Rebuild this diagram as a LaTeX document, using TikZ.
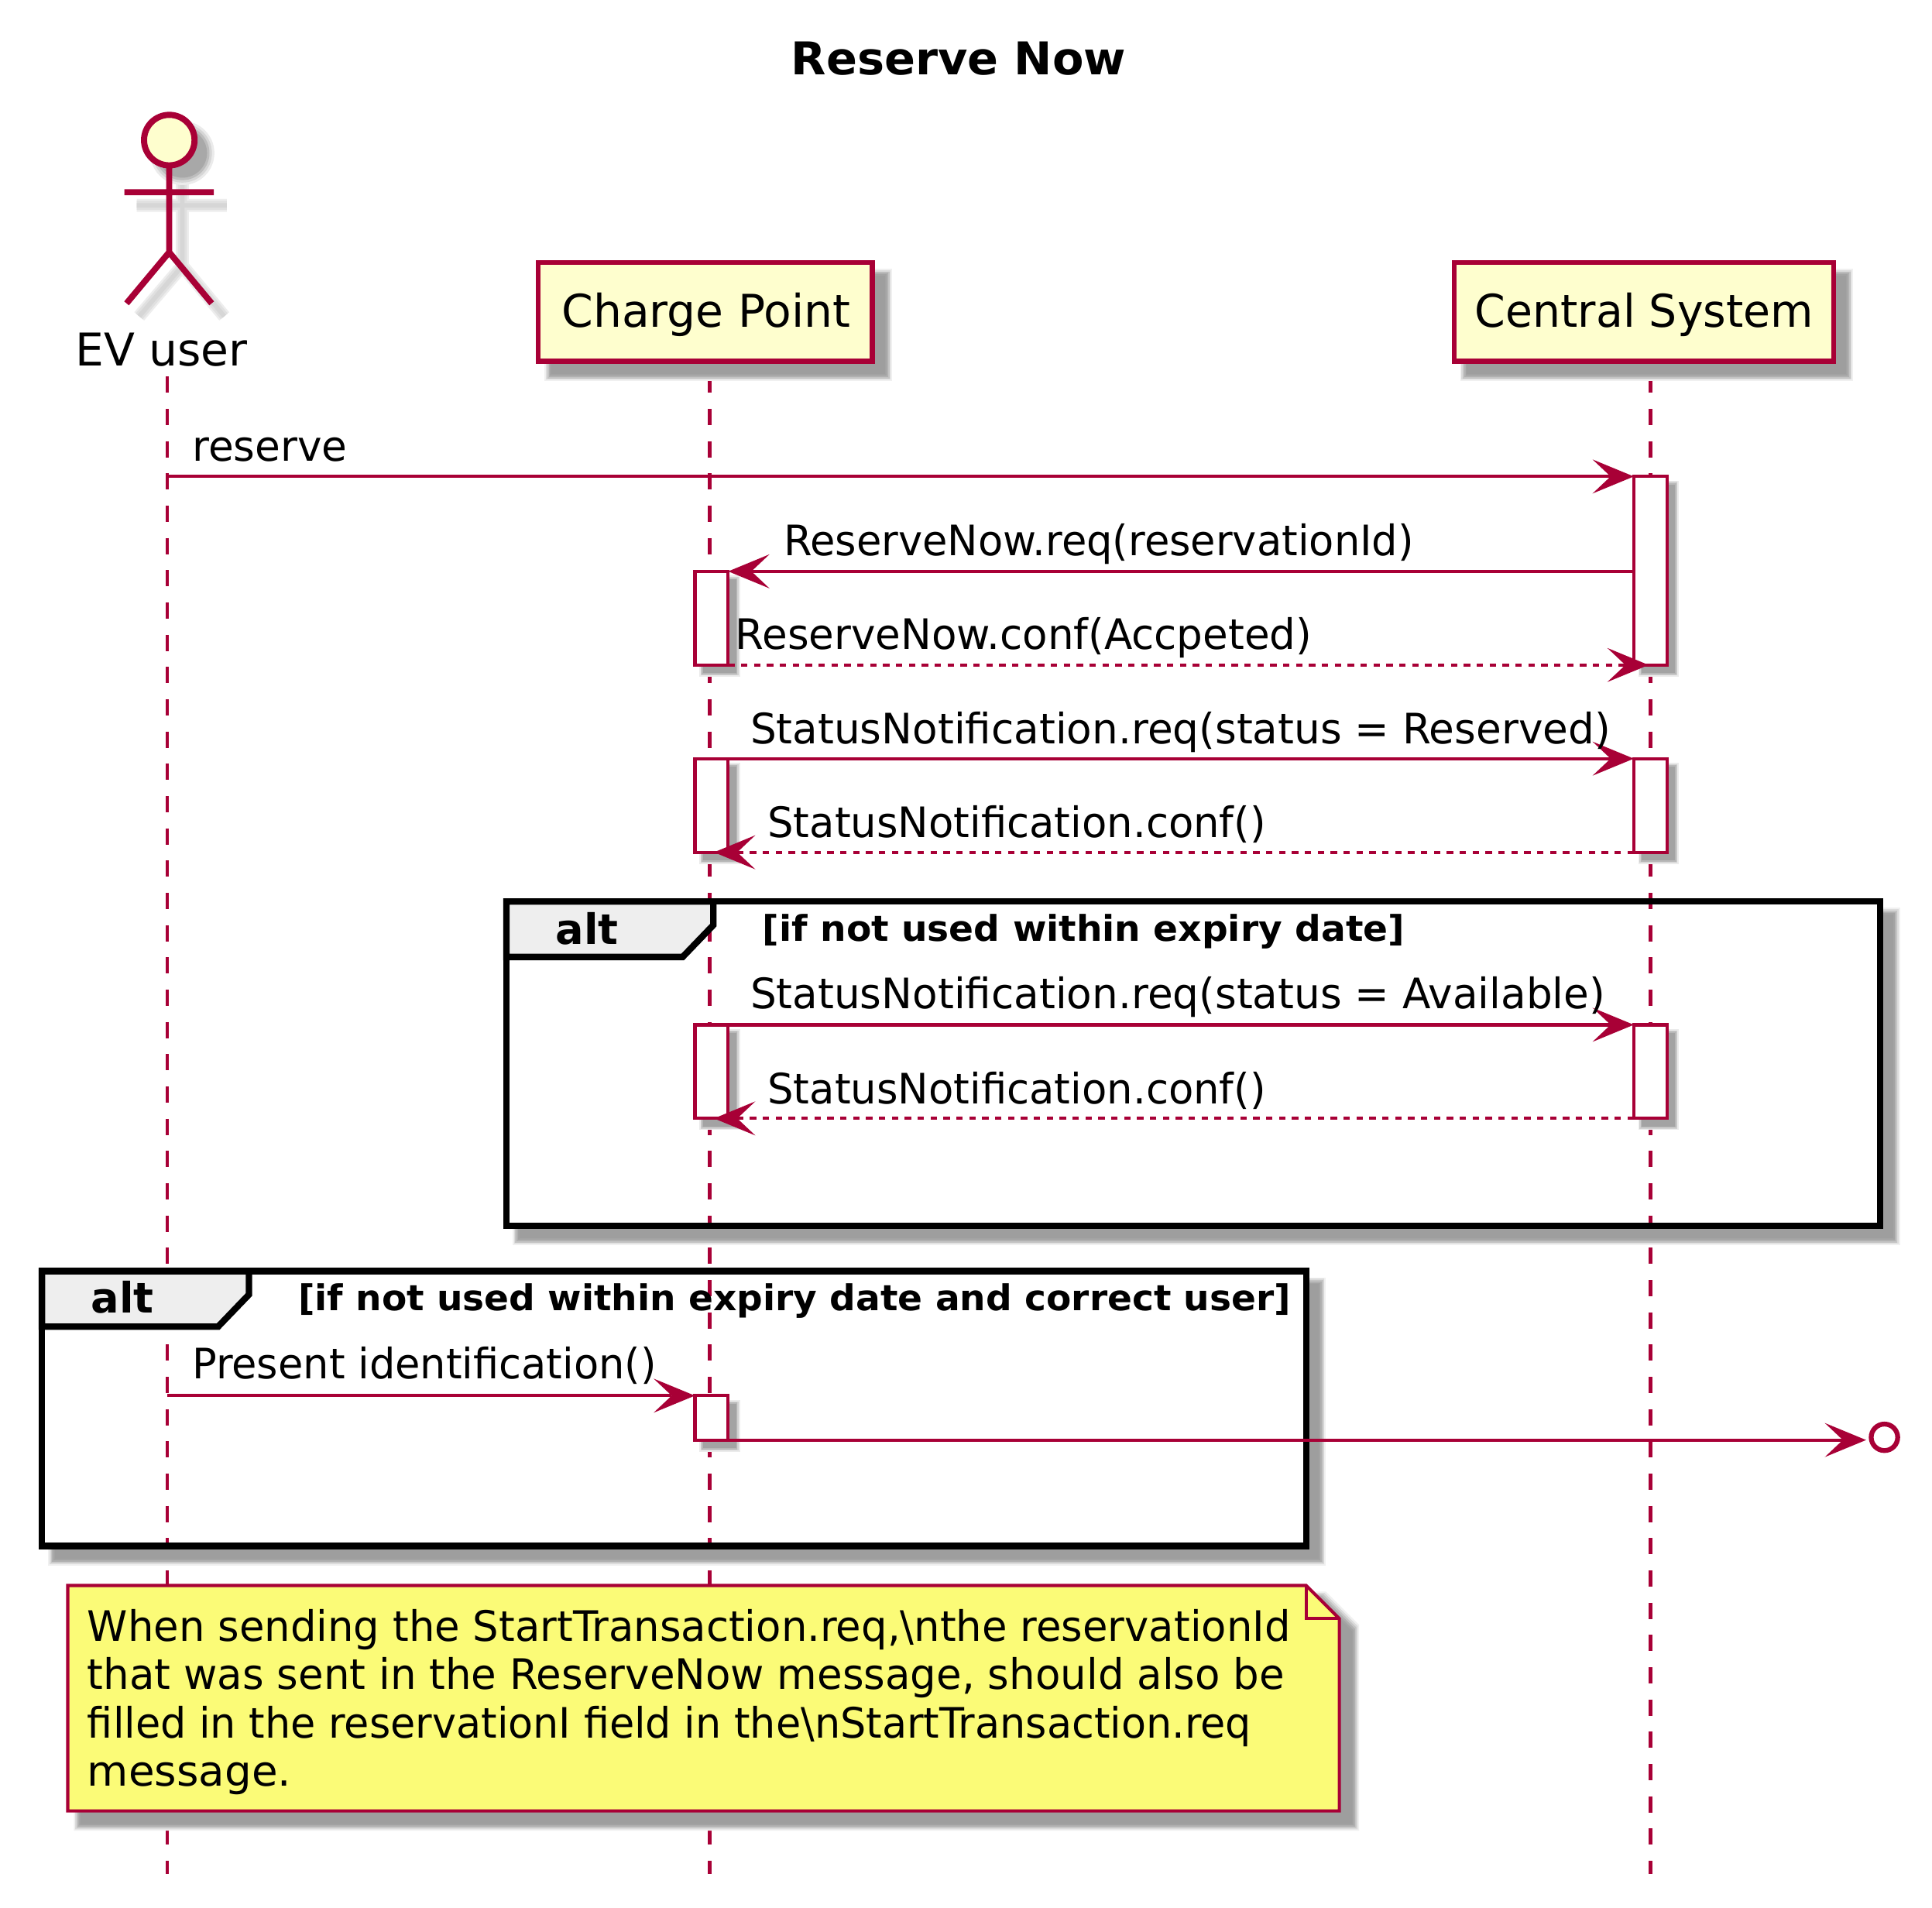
\documentclass[tikz,border=0pt]{standalone}
\usepackage{fontspec}
\setmainfont{DejaVu Sans}
\usetikzlibrary{arrows.meta}
\definecolor{pl}{HTML}{A80036}
\definecolor{pfill}{HTML}{FEFECE}
\definecolor{nfill}{HTML}{FBFB77}
\definecolor{tabfill}{HTML}{EEEEEE}
\newcommand{\softshadow}[4]{\foreach \d/\c in {5.5/6, 4.4/14, 3.3/23, 2.2/31, 1.1/36, 0/38}{\fill[black!\c] (#1+10.5-\d,#2+10.5-\d) rectangle (#3+10.5+\d,#4+10.5+\d);}}
\newcommand{\actshadow}[4]{\foreach \d/\c in {3/8,2/18,1/28,0/36}{\fill[black!\c] (#1+6.5-\d,#2+6.5-\d) rectangle (#3+6.5+\d,#4+6.5+\d);}}
\tikzset{
  lifeline/.style={draw=pl,line width=1pt,dash pattern=on 5pt off 5pt},
  hd/.tip={Stealth[length=12.8pt,width=10.56pt,inset=5.6pt,line width=0pt]},
  msgline/.style={draw=pl,line width=1pt,-{hd[fill=pl]}},
  msgdash/.style={msgline,dash pattern=on 2pt off 2pt},
  actbox/.style={draw=pl,fill=white,line width=1pt,inner sep=0pt,outer sep=0pt,minimum width=27*0.3819pt},
  partbox/.style={draw=pl,fill=pfill,line width=1.5pt,inner sep=0pt,outer sep=0pt,minimum height=80*0.3819pt},
  partlbl/.style={anchor=base,inner sep=0pt,outer sep=0pt,font=\fontsize{14}{16}\selectfont},
  lbl/.style={anchor=base west,inner sep=0pt,outer sep=0pt,font=\fontsize{13}{15}\selectfont},
  altlbl/.style={anchor=base west,inner sep=0pt,outer sep=0pt,font=\fontsize{13}{15}\selectfont\bfseries},
  condlbl/.style={anchor=base west,inner sep=0pt,outer sep=0pt,font=\fontsize{11}{13}\selectfont\bfseries},
  framebox/.style={draw=black,line width=2pt},
  tabshape/.style={draw=black,fill=tabfill,line width=2pt,line join=miter},
}
\newcommand{\sx}[2]{\scalebox{#1}[1]{#2}}
\begin{document}
\begin{tikzpicture}[x=0.3819pt,y=-0.3819pt]
\useasboundingbox (0,-0.7) rectangle (1568,1547.8);
\fill[white] (0,-0.7) rectangle (1568,1547.8);

% title
\node[anchor=base,inner sep=0pt,font=\fontsize{14}{16}\selectfont\bfseries] (title) at (778,60) {\sx{1.01}{Reserve Now}};

% lifelines
\coordinate (evT) at (135.8,305); \coordinate (evB) at (135.8,1520);
\coordinate (cpT) at (576,305);   \coordinate (cpB) at (576,1520);
\coordinate (csT) at (1339.5,305);\coordinate (csB) at (1339.5,1520);
\draw[lifeline] (evT) -- (evB);
\draw[lifeline] (cpT) -- (cpB);
\draw[lifeline] (csT) -- (csB);

% actor
\foreach \w/\c in {4/7,2.8/12,1.4/16}{
  \draw[line width=\w pt,black!\c,line cap=butt] (148,146) -- (148,215) (111,166) -- (184,166) (113,256) -- (148,215) -- (182,256);
}
\foreach \d/\c in {6/8,4/16,2/26,0/34}{\fill[black!\c] (148,123.5) circle[radius=20+\d];}
\draw[pl,line width=1.9pt] (137.3,135) -- (137.3,204) (101,155.3) -- (173.5,155.3) (102.7,245.5) -- (137.3,204) -- (171.8,245.5);
\node[draw=pl,fill=pfill,line width=1.9pt,circle,inner sep=0pt,outer sep=0pt,minimum size=41*0.3819pt] (head) at (137.4,113) {};
\node[partlbl] (evlabel) at (131,296.5) {EV user};

% participants
\softshadow{437}{212.5}{708}{292.5}
\softshadow{1180}{212.5}{1488}{292.5}
\node[partbox,minimum width=271*0.3819pt] (cpbox) at (572.5,252.5) {};
\node[partlbl] (cplabel) at (573,265) {Charge Point};
\node[partbox,minimum width=308*0.3819pt] (csbox) at (1334,252.5) {};
\node[partlbl] (cslabel) at (1334.5,265) {\sx{.975}{Central System}};

% frame shadows (outside the frames only)
\begin{scope}[even odd rule]
\clip (0,-0.7) rectangle (1568,1547.8) (411,731) rectangle (1526,994);
\softshadow{411}{731}{1526}{994}
\end{scope}
\begin{scope}[even odd rule]
\clip (0,-0.7) rectangle (1568,1547.8) (34,1031) rectangle (1060,1254);
\softshadow{34}{1031}{1060}{1254}
\end{scope}

% frames
\draw[framebox] (411,731) rectangle (1526,994);
\draw[tabshape] (411,731) -- (579,731) -- (579,750) -- (554,776) -- (411,776) -- cycle;
\node[altlbl] (alt1) at (451,766) {alt};
\node[condlbl] (cond1) at (619,763) {\sx{1.028}{[if not used within expiry date]}};
\draw[framebox] (34,1031) rectangle (1060,1254);
\draw[tabshape] (34,1031) -- (202,1031) -- (202,1050) -- (177,1076) -- (34,1076) -- cycle;
\node[altlbl] (alt2) at (74,1065) {alt};
\node[condlbl] (cond2) at (242,1063) {\sx{1.027}{[if not used within expiry date and correct user]}};

% activations
\actshadow{1326}{386}{1353}{539}
\actshadow{564}{463}{591}{539}
\actshadow{564}{615}{591}{691}
\actshadow{1326}{615}{1353}{691}
\actshadow{564}{831}{591}{907}
\actshadow{1326}{831}{1353}{907}
\actshadow{564}{1132}{591}{1168}
\node[actbox,minimum height=153*0.3819pt] (csA1) at (1339.5,462.5) {};
\node[actbox,minimum height=76*0.3819pt] (cpA1) at (577.5,501) {};
\node[actbox,minimum height=76*0.3819pt] (cpA2) at (577.5,653) {};
\node[actbox,minimum height=76*0.3819pt] (csA2) at (1339.5,653) {};
\node[actbox,minimum height=76*0.3819pt] (cpA3) at (577.5,869) {};
\node[actbox,minimum height=76*0.3819pt] (csA3) at (1339.5,869) {};
\node[actbox,minimum height=36*0.3819pt] (cpA4) at (577.5,1150) {};

% messages
\coordinate (m1s) at (135.8,386);
\draw[msgline] (m1s) -- (csA1.north west);
\node[lbl] (t1) at (156,373.5) {\sx{.984}{reserve}};
\coordinate (m2s) at (1326,463);
\draw[msgline] (m2s) -- (cpA1.north east);
\node[lbl] (t2) at (636,450) {\sx{.973}{ReserveNow.req(reservationId)}};
\coordinate (m3e) at (1338,539);
\draw[msgdash] (cpA1.south east) -- (m3e);
\node[lbl] (t3) at (597,526.5) {\sx{.981}{ReserveNow.conf(Accpeted)}};
\draw[msgline] (cpA2.north east) -- (csA2.north west);
\node[lbl] (t4) at (609,603) {\sx{.983}{StatusNotification.req(status = Reserved)}};
\coordinate (m5e) at (579.5,691);
\draw[msgdash] (csA2.south west) -- (m5e);
\node[lbl] (t5) at (623,679) {\sx{.976}{StatusNotification.conf()}};
\draw[msgline] (cpA3.north east) -- (csA3.north west);
\node[lbl] (t6) at (609,818) {\sx{.983}{StatusNotification.req(status = Available)}};
\coordinate (m7e) at (579.5,907);
\draw[msgdash] (csA3.south west) -- (m7e);
\node[lbl] (t7) at (623,895) {\sx{.976}{StatusNotification.conf()}};
\coordinate (m8s) at (135.8,1132);
\draw[msgline] (m8s) -- (cpA4.north west);
\node[lbl] (t8) at (156,1118) {\sx{.972}{Present identification()}};
\coordinate (m9e) at (1514.5,1168);
\draw[msgline] (cpA4.south east) -- (m9e);
\node[draw=pl,fill=white,circle,line width=1.5pt,inner sep=0pt,outer sep=0pt,minimum size=21.5*0.3819pt] (endc) at (1529.4,1165.8) {};

% note
\foreach \d/\c in {5.5/6, 4.4/14, 3.3/23, 2.2/31, 1.1/36, 0/38}{
  \fill[black!\c] (65.5-\d,1296.5-\d) -- (1070.5+\d,1296.5-\d) -- (1097.5+\d,1323.5-\d) -- (1097.5+\d,1479.5+\d) -- (65.5-\d,1479.5+\d) -- cycle;
}
\draw[draw=pl,fill=nfill,line width=1pt] (55,1286) -- (1060,1286) -- (1087,1313) -- (1087,1469) -- (55,1469) -- cycle;
\draw[draw=pl,line width=1pt] (1060,1286) -- (1060,1313) -- (1087,1313);
\node[lbl] (n1) at (71,1331) {\sx{.976}{When sending the StartTransaction.req,\textbackslash nthe reservationId}};
\node[lbl] (n2) at (71,1370) {\sx{.979}{that was sent in the ReserveNow message, should also be}};
\node[lbl] (n3) at (71,1410) {\sx{.968}{filled in the reservationI field in the\textbackslash nStartTransaction.req}};
\node[lbl] (n4) at (71,1449) {\sx{1.01}{message.}};
\end{tikzpicture}
\end{document}
